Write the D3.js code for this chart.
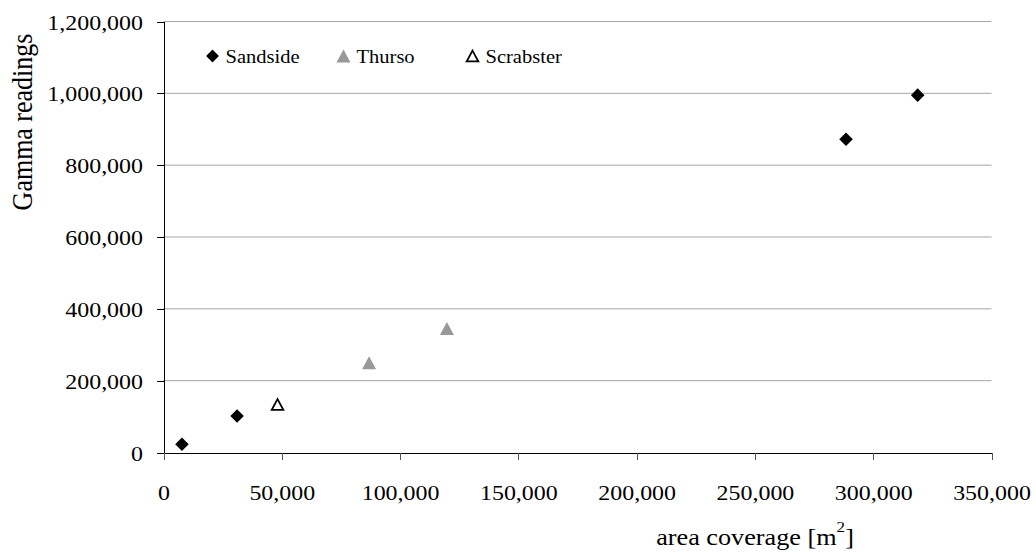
<!DOCTYPE html>
<html>
<head>
<meta charset="utf-8">
<script src="https://cdn.jsdelivr.net/npm/d3@7"></script>
<style>
  body { margin: 0; background: #fff; }
  text { font-family: "Liberation Serif", "Times New Roman", serif; fill: #000; }
</style>
</head>
<body>
<svg id="chart" width="1036" height="552"></svg>
<script>
// Tick values
const xTicks = [0, 50000, 100000, 150000, 200000, 250000, 300000, 350000];
const yTicks = [0, 200000, 400000, 600000, 800000, 1000000, 1200000];

// Series: area coverage [m²] vs gamma readings
const sandsideX = [7800, 31100, 288500, 318800];
const sandsideY = [23000, 101800, 872000, 995000];
const thursoX = [86900, 119800];
const thursoY = [250000, 345000];
const scrabsterX = [48200];
const scrabsterY = [133700];

const seriesNames = ["Sandside", "Thurso", "Scrabster"];

const svg = d3.select("#chart");
const stretch = 1.14; // horizontal glyph widening of the serif labels

const x = d3.scaleLinear().domain([0, 350000]).range([163.5, 991.5]);
const y = d3.scaleLinear().domain([0, 1200000]).range([452.5, 21.5]);
const fmt = d3.format(",");

// Horizontal gridlines
svg.append("g")
  .selectAll("line")
  .data(yTicks.filter(d => d > 0))
  .join("line")
  .attr("x1", x(0)).attr("x2", x(350000))
  .attr("y1", d => y(d)).attr("y2", d => y(d))
  .attr("stroke", "#a6a6a6").attr("stroke-width", 1);

// Y axis
const yAxis = svg.append("g")
  .attr("transform", `translate(${x(0)},0)`)
  .call(d3.axisLeft(y).tickValues(yTicks).tickSize(7).tickSizeOuter(0).tickFormat(fmt));
yAxis.select(".domain").attr("stroke", "#000");
yAxis.selectAll(".tick line").attr("stroke", "#000");
yAxis.selectAll(".tick text")
  .attr("x", null).attr("dy", null)
  .attr("font-size", 21)
  .attr("text-anchor", "end")
  .attr("transform", `translate(-20.5,7.5) scale(${stretch},1)`);

// X axis
const xAxis = svg.append("g")
  .attr("transform", `translate(0,${y(0)})`)
  .call(d3.axisBottom(x).tickValues(xTicks).tickSize(7).tickSizeOuter(0).tickFormat(fmt));
xAxis.select(".domain").attr("stroke", "#000");
xAxis.selectAll(".tick line").attr("stroke", "#555");
xAxis.selectAll(".tick text")
  .attr("y", null).attr("dy", null)
  .attr("font-size", 21)
  .attr("text-anchor", "middle")
  .attr("transform", `translate(0,47.5) scale(${stretch},1)`);

svg.selectAll(".domain, .tick line").attr("shape-rendering", "crispEdges");

// Axis titles
svg.append("text")
  .attr("transform", `translate(32,122) scale(${stretch},1) rotate(-90)`)
  .attr("text-anchor", "middle")
  .attr("font-size", 26)
  .text("Gamma readings");

const xTitle = svg.append("text")
  .attr("transform", `translate(755,545) scale(${stretch},1)`)
  .attr("text-anchor", "middle")
  .attr("font-size", 23);
xTitle.append("tspan").text("area coverage [m");
xTitle.append("tspan").attr("font-size", 15).attr("dy", -13).text("2");
xTitle.append("tspan").attr("dy", 13).text("]");

// Marker shapes: diamond = rotated square, triangles centred on their box
const triangleBox = {
  draw(ctx, size) {
    const w = Math.sqrt(size * 4 / Math.sqrt(3));
    const h = w * 0.93;
    ctx.moveTo(0, -h / 2);
    ctx.lineTo(w / 2, h / 2);
    ctx.lineTo(-w / 2, h / 2);
    ctx.closePath();
  }
};
const diamondPath = d3.symbol(d3.symbolSquare, 92)();
const filledTri = d3.symbol(triangleBox, 85)();
const openTri = d3.symbol(triangleBox, 58)();

const styles = {
  Sandside: { path: diamondPath, rot: 45, fill: "#000", stroke: "none", sw: 0 },
  Thurso: { path: filledTri, rot: 0, fill: "#999999", stroke: "none", sw: 0 },
  Scrabster: { path: openTri, rot: 0, fill: "#fff", stroke: "#000", sw: 1.8 }
};

const series = [
  { name: "Sandside", xs: sandsideX, ys: sandsideY },
  { name: "Thurso", xs: thursoX, ys: thursoY },
  { name: "Scrabster", xs: scrabsterX, ys: scrabsterY }
];

series.forEach(s => {
  const st = styles[s.name];
  svg.append("g")
    .selectAll("path")
    .data(s.xs.map((v, i) => [v, s.ys[i]]))
    .join("path")
    .attr("d", st.path)
    .attr("transform", d => `translate(${x(d[0])},${y(d[1])}) rotate(${st.rot})`)
    .attr("fill", st.fill)
    .attr("stroke", st.stroke)
    .attr("stroke-width", st.sw);
});

// Legend
const legendX = [212.5, 343.5, 472.5];
const legend = svg.append("g");
seriesNames.forEach((name, i) => {
  const st = styles[name];
  const g = legend.append("g").attr("transform", `translate(${legendX[i]},56)`);
  g.append("path")
    .attr("d", name === "Sandside" ? d3.symbol(d3.symbolSquare, 82)() : st.path)
    .attr("transform", `rotate(${st.rot})`)
    .attr("fill", st.fill)
    .attr("stroke", st.stroke)
    .attr("stroke-width", st.sw);
  g.append("text")
    .attr("transform", `translate(13,6.5) scale(${stretch},1)`)
    .attr("font-size", 18)
    .text(name);
});
</script>
</body>
</html>
